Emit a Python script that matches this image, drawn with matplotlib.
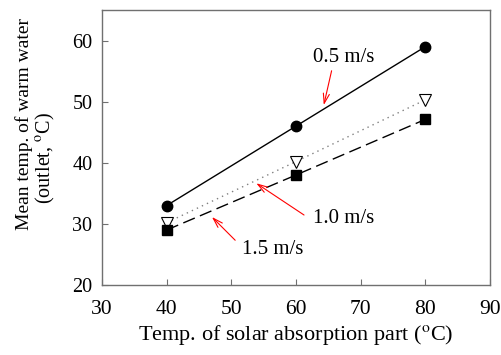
import matplotlib
matplotlib.use("Agg")
import matplotlib.pyplot as plt

temp_absorb = [40, 60, 80]
v05 = [33, 46, 59]
v10 = [30.2, 40.2, 50.3]
v15 = [29, 38, 47.1]
labels = ["0.5 m/s", "1.0 m/s", "1.5 m/s"]
xticks = [30, 40, 50, 60, 70, 80, 90]
yticks = [20, 30, 40, 50, 60]

plt.rcParams['font.family'] = ['Liberation Serif', 'DejaVu Serif']
plt.rcParams['mathtext.fontset'] = 'stix'

W, H = 502, 355
fig = plt.figure(figsize=(W/100, H/100), dpi=100)
ax = fig.add_axes([102/W, 70/H, 388/W, 275/H])

ax.plot(temp_absorb, v05, '-', color='black', lw=1.0, marker='o', ms=7.5, mfc='black', mec='black')
ax.plot(temp_absorb, v10, ':', color='#808080', lw=1.0, dashes=(1, 3), marker='v', ms=8, mfc='white', mec='black', mew=0.8)
ax.plot(temp_absorb, v15, '--', color='black', lw=1.0, dashes=(9, 4), marker='s', ms=7, mfc='black', mec='black')

ax.set_xlim(30, 90)
ax.set_ylim(20, 65)
ax.set_xticks(xticks)
ax.set_yticks(yticks)
ax.tick_params(direction='in', length=4, width=0.8, color='#707070')
ax.tick_params(axis='x', pad=11, labelsize=15.5)
ax.tick_params(axis='y', pad=7, labelsize=14.5)
for s in ax.spines.values():
    s.set_color('#707070')
    s.set_linewidth(1.0)

ax.set_xlabel("Temp. of solar absorption part ($^{\\rm o}$C)", fontsize=16, labelpad=3)
fig.text(24/W, 231/H, "Mean temp. of warm water", rotation=90, fontsize=14,
         ha='center', va='center')
fig.text(45/W, 197/H, "(outlet, $^{\\rm o}$C)", rotation=90, fontsize=14.5,
         ha='center', va='center')

arrow = dict(arrowstyle='->,head_length=0.7,head_width=0.22', color='red', lw=0.8)
ax.text(67.3, 57.3, labels[0], fontsize=15, ha='center', va='center')
ax.annotate('', xy=(64.2, 49.0), xytext=(65.6, 55.5), arrowprops=arrow)
ax.text(67.3, 30.9, labels[1], fontsize=15, ha='center', va='center')
ax.annotate('', xy=(53.5, 36.9), xytext=(61.6, 31.2), arrowprops=arrow)
ax.text(56.4, 25.8, labels[2], fontsize=15, ha='center', va='center')
ax.annotate('', xy=(46.7, 31.45), xytext=(50.9, 27.0), arrowprops=arrow)

fig.savefig('out.png', dpi=100)
